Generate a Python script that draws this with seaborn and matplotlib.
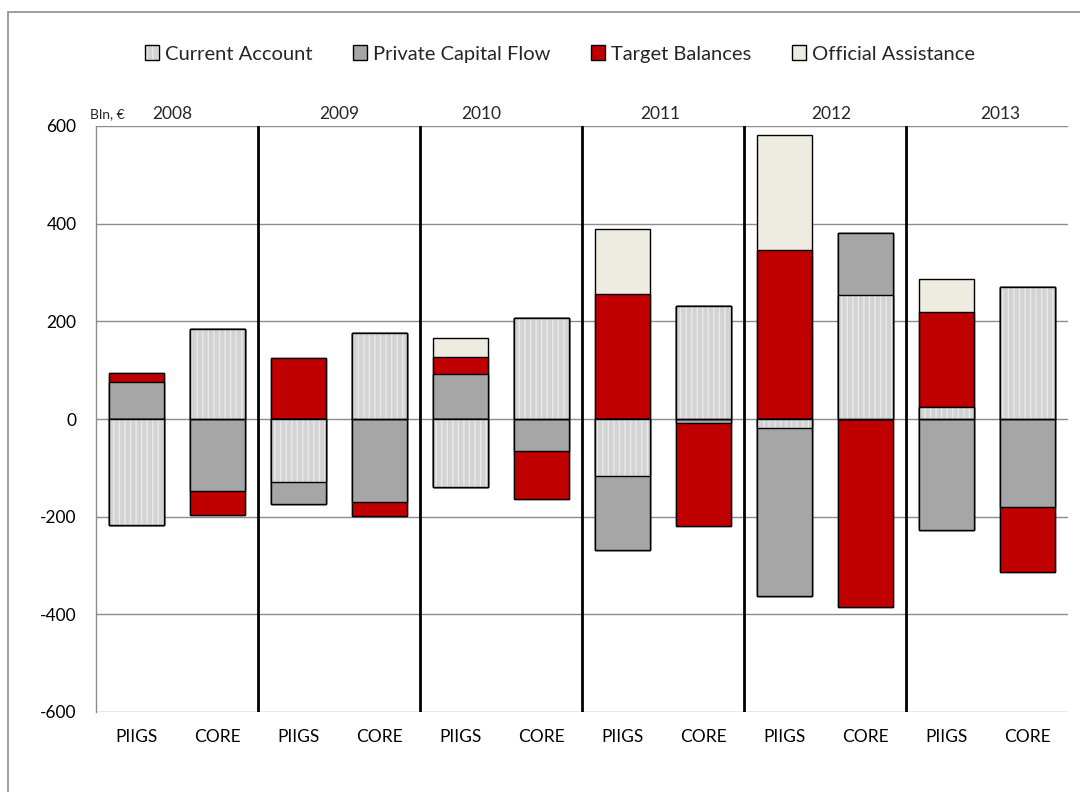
import numpy as np
import pandas as pd
import matplotlib
matplotlib.use("Agg")
import matplotlib.pyplot as plt
from matplotlib.patches import Patch, Rectangle
from matplotlib.colors import to_rgba
import matplotlib.transforms as mtransforms
import seaborn as sns

# ---------------- data ----------------
years = ["2008", "2009", "2010", "2011", "2012", "2013"]
regions = ["PIIGS", "CORE"]
series_names = ["Current Account", "Private Capital Flow", "Target Balances", "Official Assistance"]

current_account = [-217, 185, -129, 176, -139, 207, -117, 232, -18, 254, 24, 271]
private_capital = [75, -148, -45, -170, 92, -65, -151, -8, -344, 126, -227, -181]
target_balances = [20, -48, 125, -28, 35, -99, 255, -211, 346, -384, 195, -132]
official_assist = [0, 0, 0, 0, 39, 0, 135, 0, 236, 0, 67, 0]

y_ticks = [-600, -400, -200, 0, 200, 400, 600]

# ---------------- style ----------------
sns.set_theme(style="white")
plt.rcParams["font.family"] = ["Lato", "DejaVu Sans"]
plt.rcParams["hatch.linewidth"] = 1.0

colors = ["#D3D3D3", "#A6A6A6", "#C00000", "#EEECE1"]
hatch_ca = "|||"
hatch_color = "#E9E9E9"

keys = [f"{y} {r}" for y in years for r in regions]
labels = [r for y in years for r in regions]
values = np.array([current_account, private_capital, target_balances, official_assist], dtype=float)

pos_cum = np.cumsum(np.clip(values, 0, None), axis=0)
neg_cum = np.cumsum(np.clip(values, None, 0), axis=0)

fig = plt.figure(figsize=(10.8, 7.92), dpi=100)
ax = fig.add_axes([96 / 1080, 80 / 792, 972 / 1080, 586 / 792])

# draw stacked bars by overlapping cumulative bars (last series first)
for k in range(3, -1, -1):
    for cum in (pos_cum[k], neg_cum[k]):
        df = pd.DataFrame({"key": keys, "val": cum})
        n_before = len(ax.patches)
        sns.barplot(data=df, x="key", y="val", order=keys, ax=ax,
                    color=colors[k], saturation=1, width=0.67,
                    edgecolor="black", linewidth=1.0, errorbar=None,
                    hatch=hatch_ca if k == 0 else None, zorder=3)
        if k == 0:
            for p in ax.patches[n_before:]:
                try:
                    p.set_hatchcolor(hatch_color)
                except AttributeError:
                    p._hatch_color = to_rgba(hatch_color)

ax.set_xlim(-0.5, 11.5)
ax.set_ylim(-600, 600)
ax.set_yticks(y_ticks)
ax.set_yticklabels([str(v) for v in y_ticks])
ax.set_xticks(range(len(keys)))
ax.set_xticklabels(labels)
ax.set_xlabel("")
ax.set_ylabel("")
ax.tick_params(axis="both", length=0, labelsize=12.5, colors="black")
ax.tick_params(axis="x", pad=12)
ax.tick_params(axis="y", pad=14)

for t in y_ticks:
    ax.axhline(t, color="#8C8C8C", lw=1.0, zorder=1)

for s in ["top", "right", "bottom"]:
    ax.spines[s].set_visible(False)
ax.spines["left"].set_color("#8C8C8C")
ax.spines["left"].set_linewidth(1.0)

# year separators
for i in range(1, len(years)):
    ax.axvline(2 * i - 0.5, color="black", lw=2, zorder=4)

# year labels
trans = mtransforms.blended_transform_factory(ax.transData, ax.transAxes)
year_x = [0.44, 2.5, 4.26, 6.47, 8.58, 10.67]
for yx, yr in zip(year_x, years):
    ax.text(yx, 1.006, yr, transform=trans, ha="center", va="bottom", fontsize=12.5)

fig.text(90 / 1080, 1 - 118 / 792, "Bln, €", fontsize=10, ha="left", va="baseline")

# legend
handles = []
for k, name in enumerate(series_names):
    h = Patch(facecolor=colors[k], edgecolor="black", linewidth=1.0,
              hatch=hatch_ca if k == 0 else None, label=name)
    if k == 0:
        try:
            h.set_hatchcolor(hatch_color)
        except AttributeError:
            h._hatch_color = to_rgba(hatch_color)
    handles.append(h)
fig.legend(handles=handles, loc="center", bbox_to_anchor=(560 / 1080, 1 - 54 / 792),
           ncol=4, frameon=False, fontsize=14.5, handlelength=0.7, handleheight=0.7,
           handletextpad=0.3, columnspacing=2.0)

# figure border
fig.add_artist(Rectangle((8 / 1080, -0.1), 1.2, 0.1 + 1 - 12 / 792, transform=fig.transFigure,
                         fill=False, edgecolor="#8C8C8C", lw=1.2, clip_on=False))

fig.savefig("out.png", dpi=100)
